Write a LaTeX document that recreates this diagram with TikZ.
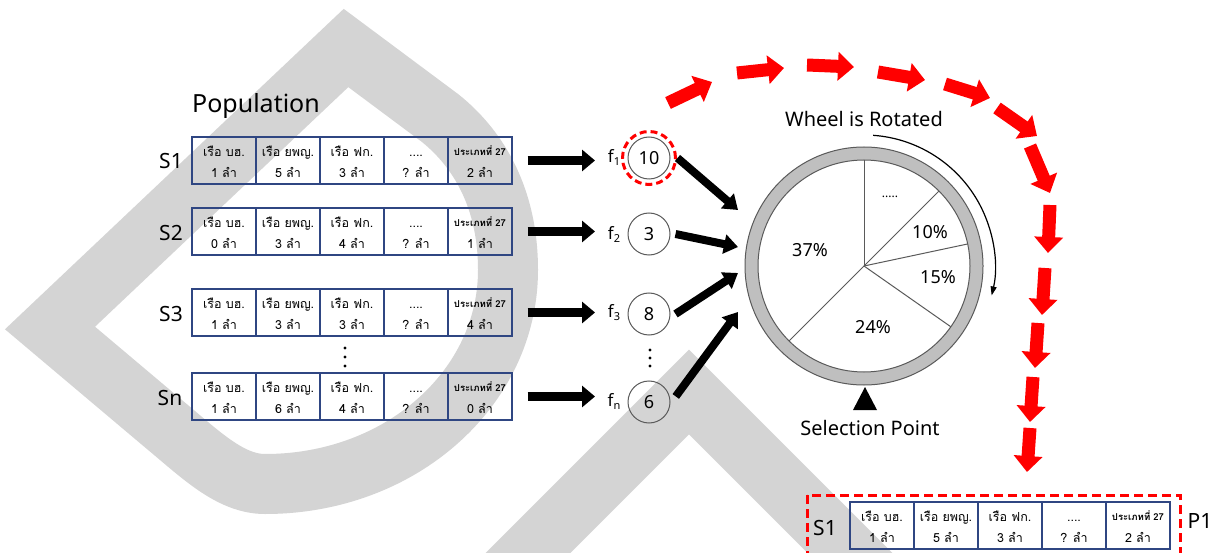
\documentclass[tikz,border=0pt]{standalone}
\usepackage{fontspec}
\setmainfont{Noto Sans}
\newfontfamily\thaifont[Script=Thai]{Loma}
\usetikzlibrary{arrows.meta,calc}
\definecolor{wmgray}{RGB}{212,212,212}
\definecolor{tblblue}{RGB}{47,70,130}
\definecolor{ringgray}{RGB}{191,191,191}
\definecolor{linegray}{RGB}{90,90,90}
\definecolor{arrred}{RGB}{255,0,0}
\newcommand{\shiptable}[8]{%
  \node[cell] (#1a) at ({#2+32},{#3+23.5}) {};
  \node[cell] (#1b) at ({#2+96},{#3+23.5}) {};
  \node[cell] (#1c) at ({#2+160},{#3+23.5}) {};
  \node[cell] (#1d) at ({#2+224},{#3+23.5}) {};
  \node[cell] (#1e) at ({#2+288},{#3+23.5}) {};
  \node[toptxt] at ($(#1a.north)+(0,20.5)$) {เรือ บฮ.};
  \node[toptxt] at ($(#1b.north)+(0,20.5)$) {เรือ ยพญ.};
  \node[toptxt] at ($(#1c.north)+(0,20.5)$) {เรือ ฟก.};
  \node[toptxt] at ($(#1d.north)+(0,20.5)$) {....};
  \node[smalltxt] at ($(#1e.north)+(0,19.5)$) {ประเภทที่ 27};
  \node[bottxt] at ($(#1a.north)+(0,41)$) {#4 ลำ};
  \node[bottxt] at ($(#1b.north)+(0,41)$) {#5 ลำ};
  \node[bottxt] at ($(#1c.north)+(0,41)$) {#6 ลำ};
  \node[bottxt] at ($(#1d.north)+(0,41)$) {#7 ลำ};
  \node[bottxt] at ($(#1e.north)+(0,41)$) {#8 ลำ};
}
\begin{document}
\begin{tikzpicture}[x=1pt,y=-1pt,
  wm/.style={draw=wmgray,line width=60pt,line join=miter,miter limit=4},
  cell/.style={draw=tblblue,line width=1.1pt,minimum width=64pt,minimum height=47pt,inner sep=0pt},
  toptxt/.style={anchor=base,inner sep=0pt,font=\thaifont\fontsize{12.5}{12.5}\selectfont},
  bottxt/.style={anchor=base,inner sep=0pt,font=\thaifont\fontsize{12.5}{12.5}\selectfont},
  smalltxt/.style={anchor=base,inner sep=0pt,font=\thaifont\bfseries\fontsize{9.5}{10}\selectfont},
  rowlab/.style={font=\fontsize{21}{21}\selectfont,inner sep=0pt},
  blkarrow/.style={line width=9pt,-{Triangle[length=13pt,width=21pt]}},
  blkarrow2/.style={line width=8pt,-{Triangle[length=14pt,width=19pt]}},
  redarrow/.style={draw=arrred,line width=13pt,-{Triangle[length=16pt,width=28pt]}},
  numcirc/.style={circle,draw=linegray,line width=1pt,minimum size=42pt,inner sep=0pt,font=\fontsize{18}{18}\selectfont},
  flab/.style={inner sep=1pt,font=\fontsize{17}{17}\selectfont},
  pct/.style={font=\fontsize{18}{18}\selectfont,inner sep=0pt},
  spoke/.style={draw=linegray,line width=1pt},
  reddash/.style={draw=arrred,line width=3pt,dash pattern=on 9pt off 5pt},
  dotmark/.style={fill=black},
]
\useasboundingbox (0,0) rectangle (1218,553);
\clip (0,0) rectangle (1218,553);
\fill[white] (0,0) rectangle (1218,553);
% watermark
\draw[wm] (346,48) -- (50,328) -- (165,425) .. controls (200,454) and (230,484) .. (265,484)
  .. controls (401,484) and (508,388) .. (508,270) .. controls (508,200) and (480,150) .. (440,118) -- cycle;
\draw[wm] (470,611) -- (689,392) -- (910,613);
% population
\node[font=\fontsize{25}{25}\selectfont,inner sep=0pt] (pop) at (256,106) {Population};
\shiptable{s1}{192}{137}{1}{5}{3}{?}{2}
\shiptable{s2}{192}{208}{0}{3}{4}{?}{1}
\shiptable{s3}{192}{289}{1}{3}{3}{?}{4}
\shiptable{sn}{192}{373}{1}{6}{4}{?}{0}
\node[rowlab] (l1) at (171,161) {S1};
\node[rowlab] (l2) at (171,233) {S2};
\node[rowlab] (l3) at (171,314) {S3};
\node[rowlab] (ln) at (170,398) {Sn};
\foreach \yy in {348,357,366} \fill[dotmark] (345,\yy) circle[radius=1.6];
% fitness circles
\node[numcirc] (c1) at (649,158) {10};
\node[numcirc] (c2) at (649,234) {3};
\node[numcirc] (c3) at (649,314) {8};
\node[numcirc] (c4) at (649,402) {6};
\node[circle,draw=arrred,line width=3pt,dash pattern=on 7pt off 4pt,minimum size=53pt,inner sep=0pt] (pick) at (c1) {};
\foreach \yy in {350,358,366} \fill[dotmark] (650,\yy) circle[radius=1.6];
\node[flab] (f1) at (614,157) {f\raisebox{-3pt}{\fontsize{11}{11}\selectfont 1}};
\node[flab] (f2) at (614,234) {f\raisebox{-3pt}{\fontsize{11}{11}\selectfont 2}};
\node[flab] (f3) at (614,313) {f\raisebox{-3pt}{\fontsize{11}{11}\selectfont 3}};
\node[flab] (f4) at (614,401) {f\raisebox{-3pt}{\fontsize{11}{11}\selectfont n}};
\draw[blkarrow,shorten <=15pt] (s1e.east) -- (s1e.east -| 595,0);
\draw[blkarrow,shorten <=15pt] (s2e.east) -- (s2e.east -| 595,0);
\draw[blkarrow,shorten <=15pt] (s3e.east) -- (s3e.east -| 595,0);
\draw[blkarrow,shorten <=15pt] (sne.east) -- (sne.east -| 595,0);
% wheel
\node[circle,draw=linegray,line width=1pt,fill=ringgray,minimum size=238pt,inner sep=0pt] (wheel) at (864,266) {};
\node[circle,draw=linegray,line width=1pt,fill=white,minimum size=212pt,inner sep=0pt] (hub) at (wheel.center) {};
\draw[spoke] (wheel.center) -- ++(-90:106);
\draw[spoke] (wheel.center) -- ++(-45:106);
\draw[spoke] (wheel.center) -- ++(-12:106);
\draw[spoke] (wheel.center) -- ++(35:106);
\draw[spoke] (wheel.center) -- ++(135:106);
\node[pct] (p37) at (810,250) {37\%};
\node[pct] (p10) at (930,232) {10\%};
\node[pct] (p15) at (938,277) {15\%};
\node[pct] (p24) at (873,327) {24\%};
\node[pct,font=\fontsize{12}{12}\selectfont\bfseries] (pdots) at (890,197) {.....};
\coordinate (w1) at (738,210);
\coordinate (w2) at (738,247);
\coordinate (w3) at (738,273);
\coordinate (w4) at (738,312);
\draw[blkarrow2] ([xshift=7pt]c1.east) -- (w1);
\draw[blkarrow2] ([xshift=5pt]c2.east) -- (w2);
\draw[blkarrow2] ([xshift=5pt]c3.east) -- (w3);
\draw[blkarrow2] ([xshift=6pt]c4.15) -- (w4);
\node[font=\fontsize{20}{20}\selectfont,inner sep=0pt] (rot) at (864,119) {Wheel is Rotated};
\draw[line width=1.2pt,-{Triangle[length=9pt,width=6pt]}] ([shift={(-86:131)}]wheel.center) arc[start angle=-86,end angle=13,radius=131];
\fill (865,387) -- (853,410) -- (877,410) -- cycle;
\node[font=\fontsize{20}{20}\selectfont,inner sep=0pt] (sel) at (870,428) {Selection Point};
% red dashed arrows
\foreach \a/\b/\c/\d in {668/103/712/82, 737/73/784/68, 807/65/854/67, 878/72/925/80, 945/84/990/98, 997/108/1037/136, 1030/146/1050/193, 1050/205/1048/253, 1045/268/1042/315, 1038/323/1035/368, 1033/377/1030/422, 1030/428/1027/472}
  \draw[redarrow] (\a,\b) -- (\c,\d);
% result
\shiptable{p}{850}{502}{1}{5}{3}{?}{2}
\node[rowlab] (pl) at (825,528) {S1};
\node[rowlab] (pp) at (1200,521) {P1};
\draw[reddash] (807,495) rectangle (1180,570);
\end{tikzpicture}
\end{document}
